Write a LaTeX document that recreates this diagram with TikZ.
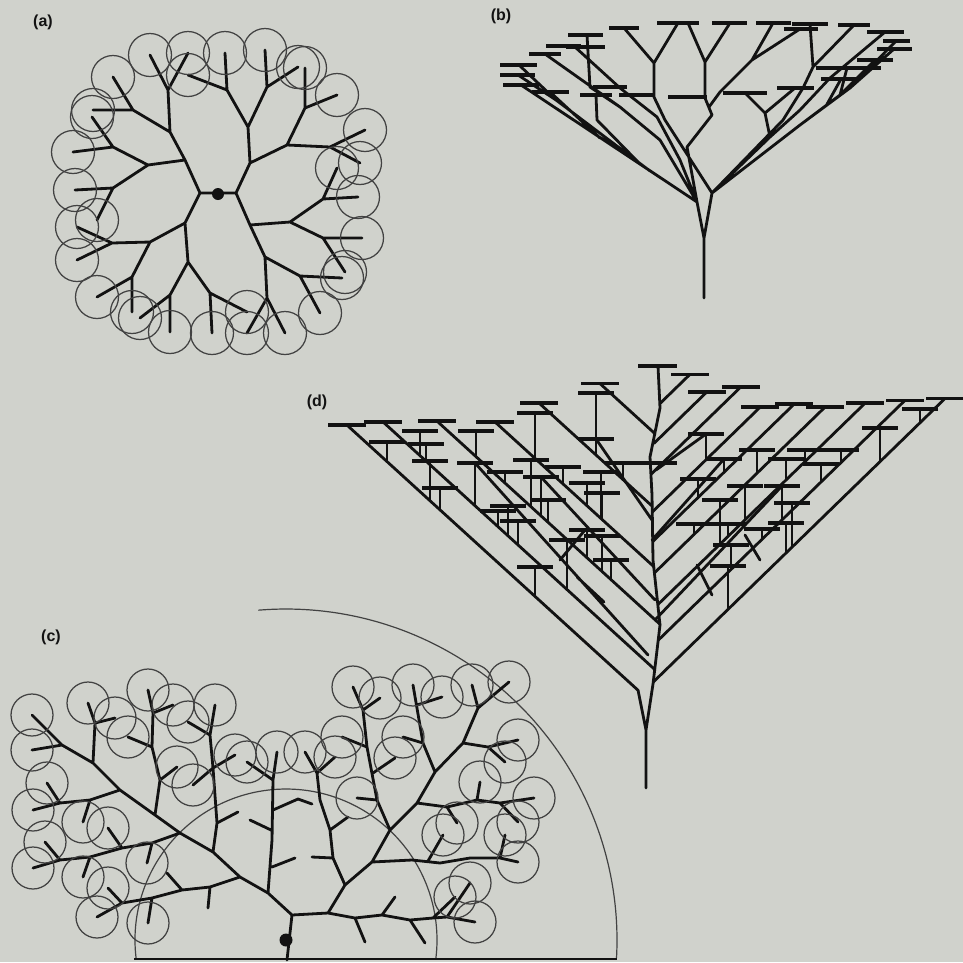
\documentclass[tikz,border=0pt]{standalone}
\usepackage{fontspec}
\setsansfont{Liberation Sans}
\definecolor{bg}{RGB}{208,210,204}
\definecolor{ink}{RGB}{18,18,18}
\definecolor{circ}{RGB}{66,66,66}
\begin{document}
\begin{tikzpicture}[x=1pt,y=-1pt,
  br/.style={draw=ink,line width=2.8pt,line cap=round,line join=round},
  lf/.style={draw=circ,line width=1.25pt},
  barst/.style={draw=ink,line width=3.6pt},
  arcst/.style={draw=circ,line width=1.2pt},
  basest/.style={draw=ink,line width=2.2pt},
  lab/.style={font=\sffamily\bfseries\fontsize{16}{16}\selectfont,text=ink,inner sep=0pt}]
\fill[bg] (0,0) rectangle (963,962);
\path[use as bounding box] (0,0) rectangle (963,962);

% labels
\node[lab] (la) at (43,22) {(a)};
\node[lab] (lb) at (501,16) {(b)};
\node[lab] (lc) at (51,637) {(c)};
\node[lab] (ld) at (317,402) {(d)};

% ================= (a) =================
\draw[br]
 (200,193) -- (236,193)
 (200,193) -- (185,160) -- (148,165)  (185,160) -- (170,132)
 (148,165) -- (113,147) -- (92,117)  (113,147) -- (73,152)
 (148,165) -- (113,188) -- (75,190)  (113,188) -- (97,220)
 (170,132) -- (168,90) -- (150,55)  (168,90) -- (188,53)
 (170,132) -- (133,110) -- (113,77)  (133,110) -- (93,110)
 (236,193) -- (250,163) -- (248,127)  (250,163) -- (287,145)
 (248,127) -- (227,90) -- (225,53)  (227,90) -- (188,75)
 (248,127) -- (267,87) -- (265,50)  (267,87) -- (298,67)
 (287,145) -- (305,108) -- (305,68)  (305,108) -- (337,95)
 (287,145) -- (330,147) -- (360,163)  (330,147) -- (365,130)
 (236,193) -- (250,225) -- (290,222)  (250,225) -- (265,257)
 (290,222) -- (323,199) -- (358,197)  (323,199) -- (337,168)
 (290,222) -- (323,238) -- (362,238)  (323,238) -- (345,272)
 (265,257) -- (300,276) -- (342,278)  (300,276) -- (320,313)
 (265,257) -- (267,298) -- (247,333)  (267,298) -- (285,333)
 (200,193) -- (185,223) -- (150,242)  (185,223) -- (188,262)
 (150,242) -- (112,243) -- (77,227)  (112,243) -- (77,260)
 (150,242) -- (132,277) -- (97,297)  (132,277) -- (132,312)
 (188,262) -- (170,295) -- (170,332)  (170,295) -- (140,318)
 (188,262) -- (210,293) -- (212,333)  (210,293) -- (247,312);
\fill[ink] (218,194) circle[radius=6];
\foreach \x/\y in {92/117,73/152,75/190,97/220,150/55,188/53,113/77,93/110,
  225/53,188/75,265/50,298/67,305/68,337/95,360/163,365/130,
  358/197,337/168,362/238,345/272,342/278,320/313,247/333,285/333,
  77/227,77/260,97/297,132/312,170/332,140/318,212/333,247/312}
  \draw[lf] (\x,\y) circle[radius=21.5];

% ================= (b) =================
\draw[br]
 (704,298) -- (704,238) -- (697,202)  (704,238) -- (712,193)
 (697,202) -- (521,85)
 (650,171) -- (556,100) -- (518,75)  (556,100) -- (519,65)
 (697,202) -- (660,140) -- (620,107) -- (590,87) -- (587,35)
 (620,107) -- (545,54)
 (697,202) -- (680,160) -- (657,117) -- (620,88) -- (575,47)
 (641,165) -- (597,120) -- (596,95)
 (600,138) -- (550,92)
 (712,193) -- (665,120) -- (654,97) -- (654,63) -- (624,28)  (654,63) -- (678,23)
 (697,202) -- (687,147) -- (712,115) -- (705,98) -- (705,62) -- (688,23)  (705,62) -- (730,23)
 (709,107) -- (720,92) -- (752,60) -- (773,23)  (752,60) -- (800,29)
 (712,193) -- (783,120) -- (803,88) -- (813,67) -- (810,24)  (813,67) -- (854,25)
 (712,193) -- (770,137) -- (800,110) -- (830,78) -- (885,32)
 (712,193) -- (800,125) -- (850,88) -- (896,41)  (850,88) -- (894,49)
 (800,125) -- (840,95) -- (875,60)  (840,95) -- (847,68)  (826,106) -- (841,79)
 (770,137) -- (765,113) -- (745,93)  (765,113) -- (795,88);
\foreach \a/\b/\y in {609/639/28,657/699/23,712/747/23,756/791/23,792/828/24,784/818/29,
  838/870/25,867/904/32,883/910/41,877/912/49,857/893/60,816/881/68,821/860/79,
  777/814/88,723/767/93,668/707/97,619/654/95,580/612/95,593/627/87,532/569/92,
  503/539/85,500/535/75,500/537/65,529/561/54,546/581/46,566/605/47,568/603/35}
  \draw[barst] (\a,\y) -- (\b,\y);

% ================= (d) =================
\draw[br] (646,788) -- (646,730) -- (638,690)  (646,730) -- (653,684)
 (653,684) -- (660,625) -- (653,560) -- (652,495) -- (650,457) -- (660,408) -- (658,366)
 (577,577) -- (604,602)  (697,565) -- (712,595)
 (648,655) -- (475,463)  (655,600) -- (541,477)  (652,520) -- (596,439)
 (655,620) -- (782,486)  (652,540) -- (724,459)  (656,470) -- (706,434)
 (560,560) -- (585,530)  (760,560) -- (745,535);
\draw[barst] (638,366) -- (677,366)  (630,463) -- (677,463);
\foreach \c/\xa/\xt in {109/638/347,73/655/383,23/660/437,-29/654/495,-88/652/539,-163/655/600}{
  \draw[br] (\xa,{\c+0.911*\xa}) -- (\xt,{\c+0.911*\xt});
  \draw[barst] ({\xt-19},{\c+0.911*\xt}) -- ({\xt+19},{\c+0.911*\xt});
}
\foreach \c/\xa/\xt in {1317/653/945,1280/658/905,1244/658/865,1209/654/825,1176/653/794,
  1146/652/760,1107/651/741,1079/654/707,1045/660/690}{
  \draw[br] (\xa,{\c-0.972*\xa}) -- (\xt,{\c-0.972*\xt});
  \draw[barst] ({\xt-19},{\c-0.972*\xt}) -- ({\xt+19},{\c-0.972*\xt});
}
\foreach \bx/\by/\c in {387/442/109,420/431/73,426/444/73,476/431/23,430/461/109,475/463/73,
  505/472/23,531/460/23,563/467/-29,541/477/23,596/439/-88,623/463/-88,601/472/-29,
  587/483/-29,602/493/-29,548/500/23,508/506/73,498/511/73,518/521/73,440/488/109,
  567/540/73,587/530/23,602/536/23,611/560/23,535/567/109,535/413/-29,596/393/-88}{
  \draw[br] (\bx,\by) -- (\bx,{\c+0.911*\bx});
  \draw[barst] ({\bx-18},\by) -- ({\bx+18},\by);
}
\foreach \bx/\by/\c in {706/434/1146,757/450/1209,805/450/1244,841/450/1280,786/459/1244,
  821/464/1280,724/459/1176,698/479/1176,745/486/1244,782/486/1280,792/503/1317,
  720/500/1244,694/524/1209,728/524/1244,786/523/1317,762/529/1280,731/545/1280,
  728/566/1317,880/428/1317,920/409/1317}{
  \draw[br] (\bx,\by) -- (\bx,{\c-0.972*\bx});
  \draw[barst] ({\bx-18},\by) -- ({\bx+18},\by);
}

% ================= (c) =================
\draw[arcst] (286,940) ++(173.2:151) arc[start angle=173.2,end angle=366.8,radius=151];
\draw[arcst] (286,940) ++(265.2:331) arc[start angle=265.2,end angle=363.1,radius=331];
\draw[basest] (134,959) -- (617,959);
\draw[br]
 (287,960) -- (292,915)
 (292,915) -- (268,893) -- (240,877) -- (213,852) -- (180,833) -- (155,815) -- (120,790) -- (93,763) -- (62,745) -- (32,715)
 (62,745) -- (32,750)
 (93,763) -- (95,723) -- (88,703)  (95,723) -- (115,718)
 (120,790) -- (90,800) -- (60,803) -- (33,810)  (90,800) -- (83,822)  (60,803) -- (47,783)
 (155,815) -- (160,780) -- (152,747) -- (153,713) -- (148,690)  (160,780) -- (177,767)  (152,747) -- (128,737)  (153,713) -- (173,705)
 (180,833) -- (152,843) -- (122,848) -- (90,857) -- (60,860) -- (33,868)  (152,843) -- (147,863)  (122,848) -- (108,828)  (90,857) -- (83,877)  (60,860) -- (45,842)
 (213,852) -- (217,823) -- (213,768) -- (210,735) -- (215,705)  (217,823) -- (238,812)  (213,768) -- (193,785)  (210,735) -- (188,722)  (213,768) -- (235,755)
 (240,877) -- (210,887) -- (182,890) -- (152,898) -- (122,903) -- (97,917)  (210,887) -- (208,908)  (182,890) -- (167,873)  (152,898) -- (148,923)  (122,903) -- (108,888)
 (268,893) -- (272,840) -- (273,780) -- (277,752)  (272,867) -- (295,858)  (271,830) -- (250,820)  (273,810) -- (298,799) -- (312,804)  (273,780) -- (247,762)
 (292,915) -- (328,913)
 (328,913) -- (345,885) -- (372,862) -- (390,830) -- (417,803) -- (435,772) -- (463,743) -- (478,708) -- (509,682)
 (478,708) -- (472,685)
 (345,885) -- (333,858) -- (330,830) -- (320,800) -- (317,773) -- (305,752)  (333,858) -- (312,857)  (330,830) -- (348,817)  (317,773) -- (335,757)
 (390,830) -- (377,800) -- (367,747) -- (363,710) -- (353,687)  (377,800) -- (357,798)  (373,773) -- (395,758)  (367,747) -- (342,737)  (363,710) -- (380,698)
 (435,772) -- (423,743) -- (413,685)  (423,743) -- (403,737)  (417,705) -- (442,697)
 (463,743) -- (488,747) -- (518,740)  (488,747) -- (505,762)
 (417,803) -- (447,807) -- (477,800) -- (500,803) -- (534,798)  (447,807) -- (457,823)  (477,800) -- (480,782)  (500,803) -- (518,822)
 (372,862) -- (412,860) -- (440,863) -- (470,858) -- (500,858) -- (518,862)  (428,861) -- (443,835)  (500,858) -- (505,835)
 (328,913) -- (355,918) -- (382,915) -- (410,920) -- (433,918) -- (447,917) -- (475,922)  (355,918) -- (365,942)  (382,915) -- (395,897)  (410,920) -- (425,943)  (433,918) -- (455,897)  (447,917) -- (470,883);
\fill[ink] (286,940) circle[radius=6.5];
\foreach \x/\y in {32/715,32/750,88/703,115/718,33/810,83/822,47/783,148/690,177/767,128/737,
  173/705,147/863,108/828,83/877,45/842,33/868,215/705,193/785,188/722,235/755,148/923,
  108/888,97/917,277/752,247/762,
  509/682,472/685,305/752,335/757,353/687,357/798,395/758,342/737,380/698,413/685,403/737,
  442/697,518/740,505/762,534/798,457/823,480/782,518/822,518/862,443/835,505/835,475/922,
  455/897,470/883}
  \draw[lf] (\x,\y) circle[radius=21];
\end{tikzpicture}
\end{document}
